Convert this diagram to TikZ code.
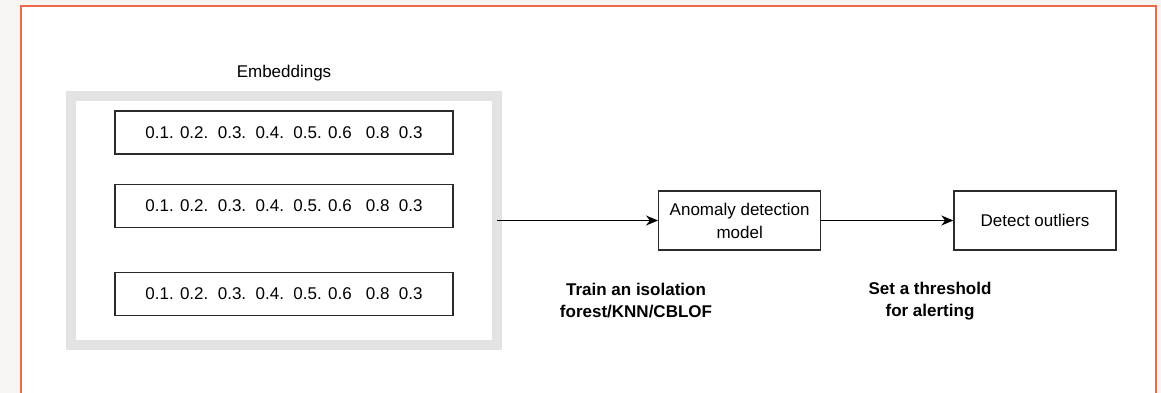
\documentclass[tikz,border=0pt]{standalone}
\usepackage{fontspec}
\setmainfont{Liberation Sans}
\usepackage{xcolor}
\usetikzlibrary{positioning,arrows.meta}

\definecolor{pagebg}{HTML}{F6F5F1}
\definecolor{framered}{HTML}{F0684C}
\definecolor{embgray}{HTML}{E3E3E3}
\definecolor{boxline}{HTML}{2B2B2B}

\begin{document}
\begin{tikzpicture}[
  x=1pt, y=-1pt,
  font=\fontsize{17}{23}\selectfont,
  vec/.style={draw=boxline, line width=1.3pt, minimum width=338pt,
              minimum height=43pt, inner sep=0pt},
  proc/.style={draw=boxline, line width=1.3pt, align=center,
               minimum width=162pt, minimum height=59pt, inner sep=2pt},
  note/.style={align=center, font=\fontsize{17}{22}\selectfont\bfseries},
  >={Stealth[length=12pt,width=10pt]}
]
% page and frame
\useasboundingbox (0,0) rectangle (1161,393);
\fill[pagebg] (0,0) rectangle (1161,393);
\fill[white] (21,6) rectangle (1156,393);
\draw[framered, line width=2pt] (21,394) -- (21,6) -- (1156,6) -- (1156,394);

% embeddings
\node[draw=embgray, line width=10pt, outer sep=0pt, minimum width=426pt,
      minimum height=249pt] (emb) at (284,220.5) {};
\node (embtitle) at (284,73) {Embeddings};
\node[vec] (row1) at (284,132.5) {0.1. 0.2.\ \ 0.3.\ \ 0.4.\ \ 0.5. 0.6\ \ \ 0.8\ \ 0.3};
\node[vec] (row2) at (284,206) {0.1. 0.2.\ \ 0.3.\ \ 0.4.\ \ 0.5. 0.6\ \ \ 0.8\ \ 0.3};
\node[vec] (row3) at (284,294) {0.1. 0.2.\ \ 0.3.\ \ 0.4.\ \ 0.5. 0.6\ \ \ 0.8\ \ 0.3};

% pipeline
\node[proc, right=161pt of emb] (model) {Anomaly detection\\model};
\node[proc, right=132pt of model] (outl) {Detect outliers};

\draw[->, line width=1.3pt] (emb) -- (model);
\draw[->, line width=1.3pt] (model) -- (outl);

\node[note] (trainlbl) at (636,301) {Train an isolation\\forest/KNN/CBLOF};
\node[note] (threshlbl) at (930,301) {Set a threshold\\for alerting};
\end{tikzpicture}
\end{document}
